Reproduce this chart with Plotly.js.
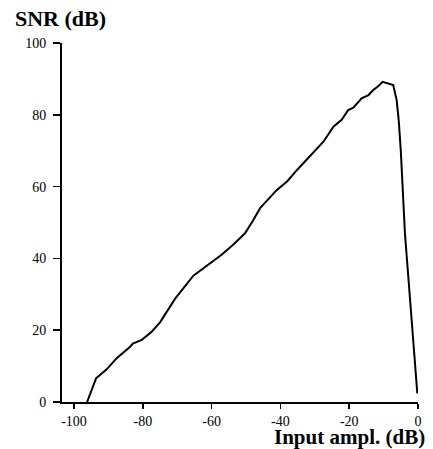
<!DOCTYPE html>
<html>
<head>
<meta charset="utf-8">
<script src="https://cdn.plot.ly/plotly-3.0.1.min.js"></script>
<style>
html,body{margin:0;padding:0;background:#fff;}
#chart{width:433px;height:449px;}
</style>
</head>
<body>
<div id="chart"></div>
<script>
const inputAmpl = [-96.2, -93.6, -90.5, -87.6, -83.7, -82.9, -80.3, -77.5, -75, -70.6, -65.3, -61, -57.1, -53.5, -50.3, -48, -45.9, -41.1, -38, -35.3, -32.8, -30.4, -27.5, -24.6, -22.2, -20.3, -18.8, -16.4, -14.4, -13, -11.5, -10.3, -9.1, -7.6, -7.2, -6.2, -5.6, -5.0, -4.5, -3.8, -2.3, -0.9, -0.2];
const snr = [0, 6.6, 9.1, 12.2, 15.4, 16.3, 17.3, 19.5, 22.2, 28.8, 35.2, 38.3, 41, 44, 47, 50.5, 54, 59, 61.5, 64.5, 67, 69.7, 72.5, 76.7, 78.6, 81.3, 82, 84.6, 85.5, 86.9, 88, 89.2, 88.8, 88.3, 88.3, 84.1, 78.4, 70, 60, 47, 28.4, 9.8, 2.4];
const xTicks = [-100, -80, -60, -40, -20, 0];
const yTicks = [0, 20, 40, 60, 80, 100];

const serif = "'Liberation Serif', 'Times New Roman', serif";

const trace = {
  x: inputAmpl, y: snr, type: 'scatter', mode: 'lines',
  line: {color: '#000', width: 2, shape: 'linear'},
  hoverinfo: 'skip'
};

const layout = {
  width: 433, height: 449,
  margin: {l: 62, r: 15, t: 43, b: 47},
  paper_bgcolor: '#fff', plot_bgcolor: '#fff',
  showlegend: false,
  font: {family: serif, color: '#000', size: 14},
  xaxis: {
    range: [-103.5, 0], tickvals: xTicks, ticktext: xTicks.map(String),
    showgrid: false, zeroline: false, showline: true, linecolor: '#000', linewidth: 2,
    ticks: 'outside', ticklen: 5, tickwidth: 1.5, tickcolor: '#000',
    tickfont: {family: serif, size: 14, color: '#000'}
  },
  yaxis: {
    range: [0, 100], tickvals: yTicks, ticktext: yTicks.map(String),
    showgrid: false, zeroline: false, showline: true, linecolor: '#000', linewidth: 2,
    ticks: 'outside', ticklen: 7, tickwidth: 1.5, tickcolor: '#000',
    ticklabelstandoff: 4,
    tickfont: {family: serif, size: 14, color: '#000'}
  },
  annotations: [
    {text: '<b>SNR (dB)</b>', xref: 'paper', yref: 'paper', x: -0.1376, y: 1.0696,
     xanchor: 'left', yanchor: 'middle', showarrow: false,
     font: {family: serif, size: 22, color: '#000'}},
    {text: '<b>Input ampl. (dB)</b>', xref: 'paper', yref: 'paper', x: 1.025, y: -0.098,
     xanchor: 'right', yanchor: 'middle', showarrow: false,
     font: {family: serif, size: 21, color: '#000'}}
  ]
};

Plotly.newPlot('chart', [trace], layout, {displayModeBar: false, staticPlot: true});
</script>
</body>
</html>
